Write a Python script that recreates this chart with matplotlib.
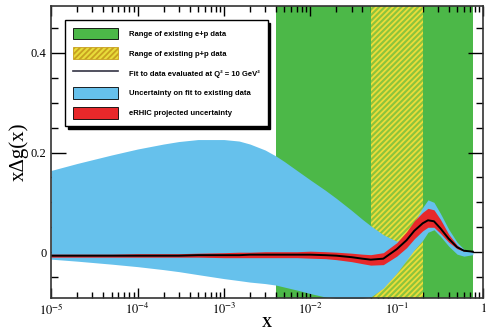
import numpy as np
import matplotlib
matplotlib.use('Agg')
import matplotlib.pyplot as plt
from matplotlib.patches import Patch
from matplotlib.lines import Line2D
from matplotlib.ticker import MultipleLocator, LogLocator, NullFormatter

plt.rcParams['mathtext.fontset'] = 'stix'
plt.rcParams['hatch.linewidth'] = 1.3

# data
x = [1e-5, 2e-5, 5e-5, 1e-4, 2e-4, 3e-4, 5e-4, 1e-3, 1.5e-3, 2e-3, 3e-3, 4e-3, 5e-3, 7e-3,
     0.01, 0.015, 0.02, 0.03, 0.04, 0.05, 0.07, 0.1, 0.13, 0.16, 0.2, 0.23, 0.27, 0.32,
     0.4, 0.5, 0.6, 0.76]
blue_hi = [0.164, 0.178, 0.195, 0.207, 0.217, 0.222, 0.226, 0.226, 0.223, 0.217, 0.205,
           0.193, 0.182, 0.164, 0.145, 0.124, 0.108, 0.084, 0.066, 0.053, 0.035, 0.022,
           0.032, 0.06, 0.09, 0.105, 0.1, 0.078, 0.046, 0.02, 0.006, 0.0]
blue_lo = [-0.014, -0.018, -0.024, -0.029, -0.035, -0.039, -0.045, -0.053, -0.057, -0.06,
           -0.063, -0.066, -0.070, -0.076, -0.083, -0.09, -0.093, -0.094, -0.093, -0.09,
           -0.072, -0.042, -0.016, 0.005, 0.024, 0.04, 0.045, 0.032, 0.012, -0.004,
           -0.008, -0.005]
fit = [-0.007, -0.007, -0.007, -0.007, -0.007, -0.007, -0.006, -0.006, -0.006, -0.005,
       -0.005, -0.005, -0.005, -0.005, -0.005, -0.006, -0.007, -0.01, -0.013, -0.015,
       -0.013, 0.006, 0.024, 0.043, 0.058, 0.064, 0.062, 0.048, 0.027, 0.01, 0.003, 0.001]
red_hi = [-0.004, -0.004, -0.004, -0.003, -0.003, -0.003, -0.002, -0.001, 0.0, 0.0,
          0.001, 0.001, 0.001, 0.001, 0.002, 0.001, 0.0, -0.002, -0.004, -0.005, -0.001,
          0.019, 0.041, 0.063, 0.08, 0.088, 0.085, 0.066, 0.036, 0.014, 0.004, 0.001]
red_lo = [-0.010, -0.010, -0.010, -0.010, -0.010, -0.010, -0.010, -0.011, -0.011, -0.011,
          -0.011, -0.011, -0.011, -0.011, -0.012, -0.013, -0.015, -0.019, -0.023, -0.026,
          -0.025, -0.008, 0.009, 0.027, 0.043, 0.05, 0.05, 0.038, 0.02, 0.007, 0.002, 0.001]

ep_range = [0.004, 0.76]
pp_range = [0.05, 0.2]

green = '#4cb848'
blue = '#66c1ec'
red = '#e8282a'

fig = plt.figure(figsize=(4.87, 3.33), dpi=100)
ax = fig.add_axes([0.105, 0.105, 0.887, 0.877])

ax.axvspan(ep_range[0], ep_range[1], color=green, lw=0, zorder=1)
ax.axvspan(pp_range[0], pp_range[1], facecolor='#8cc43c', edgecolor='#ecdc3a',
           hatch='//////', lw=0, zorder=2)
ax.fill_between(x, blue_lo, blue_hi, color=blue, lw=0, zorder=3)
ax.fill_between(x, red_lo, red_hi, color=red, lw=0, zorder=4)
ax.plot(x, fit, color='black', lw=1.4, zorder=5)

ax.set_xscale('log')
ax.set_xlim(1e-5, 1)
ax.set_ylim(-0.092, 0.494)

ax.yaxis.set_major_locator(MultipleLocator(0.2))
ax.yaxis.set_minor_locator(MultipleLocator(0.05))
ax.set_yticks([0, 0.2, 0.4])
ax.set_yticklabels(['0', '0.2', '0.4'], family='Liberation Serif', fontsize=9)
ax.xaxis.set_minor_locator(LogLocator(base=10, subs=np.arange(2, 10), numticks=20))
ax.xaxis.set_minor_formatter(NullFormatter())
ax.set_xticks([1e-5, 1e-4, 1e-3, 1e-2, 1e-1, 1])
ax.set_xticklabels([r'$10^{-5}$', r'$10^{-4}$', r'$10^{-3}$', r'$10^{-2}$', r'$10^{-1}$', r'$1$'],
                   fontsize=9)

ax.tick_params(axis='y', which='major', direction='in', length=11, width=1, right=True, left=True)
ax.tick_params(axis='y', which='minor', direction='in', length=5, width=1, right=True, left=True)
ax.tick_params(axis='x', which='major', direction='in', length=7, width=1, top=True, pad=3)
ax.tick_params(axis='x', which='minor', direction='in', length=4, width=1, top=True)
for s in ax.spines.values():
    s.set_linewidth(1.2)
    s.set_color('#333333')
    s.set_zorder(6)

ax.set_xlabel('X', family='Liberation Serif', fontweight='bold', fontsize=10, labelpad=-1)
ax.set_ylabel('xΔg(x)', family='Liberation Serif', fontsize=15, labelpad=1)

handles = [
    Patch(facecolor=green, edgecolor='black', lw=0.6),
    Patch(facecolor='#e8dc3a', edgecolor='#c8a020', hatch='//////', lw=0.6),
    Line2D([0], [0], color='#333344', lw=1.2),
    Patch(facecolor=blue, edgecolor='black', lw=0.6),
    Patch(facecolor=red, edgecolor='black', lw=0.6),
]
labels = [
    'Range of existing e+p data',
    'Range of existing p+p data',
    'Fit to data evaluated at Q² = 10 GeV²',
    'Uncertainty on fit to existing data',
    'eRHIC projected uncertainty',
]
leg = ax.legend(handles, labels, loc='upper left', bbox_to_anchor=(0.032, 0.952),
                borderaxespad=0, fancybox=False, shadow={'color': 'black', 'alpha': 1},
                framealpha=1, edgecolor='black',
                prop={'family': 'Liberation Sans', 'weight': 'bold', 'size': 5.5},
                handlelength=6.0, handleheight=2.0, labelspacing=1.05,
                handletextpad=1.4, borderpad=1.0)
leg.get_frame().set_linewidth(1.0)
leg.set_zorder(10)

fig.savefig('out.png', dpi=100)
